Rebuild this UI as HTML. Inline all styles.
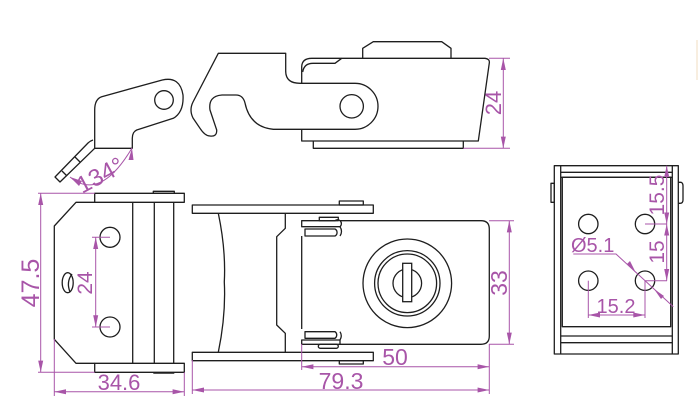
<!DOCTYPE html>
<html><head><meta charset="utf-8">
<style>
html,body{margin:0;padding:0;background:#fff;width:698px;height:403px;overflow:hidden}
svg{display:block}
.k{fill:none;stroke:#1e1e1e;stroke-width:1.3;stroke-linejoin:round}
.p{fill:none;stroke:#a855a8;stroke-width:1}
.a{fill:#a855a8;stroke:none}
text{font-family:"Liberation Sans",sans-serif;fill:#a855a8;font-weight:normal}
</style></head><body>
<svg width="698" height="403" viewBox="0 0 698 403" xmlns="http://www.w3.org/2000/svg">
<line x1="697" y1="40" x2="697" y2="80" stroke="#f0dcc0" stroke-width="1"/>

<path class="k" d="M94.7,148.3 L94.7,110 Q94.7,99 101.7,96.7 L162.3,80 Q180,76 183,95 Q184,112 173.3,118.3 L136.7,130 Q132.3,132 132.3,138.3 L132.3,148.3 Z"/>
<circle class="k" cx="164" cy="100" r="9.3"/>
<path class="k" d="M93,140 Q90,141 88,143 L55,177 L60,182 L94.7,148.3"/>
<line class="k" x1="75" y1="157" x2="80" y2="162"/>
<line class="k" x1="62" y1="171" x2="67" y2="176"/>
<path class="p" d="M70,177 Q100,202 132,148"/>
<polygon class="a" points="132,148 128.5,160 133.5,160"/>
<polygon class="a" points="70,177 82,181 79,186"/>
<text x="0" y="0" font-size="24" transform="translate(82,194) rotate(-28)">134°</text>

<path class="k" d="M218.3,53.3 L285.7,53.3 L285.7,71.7 Q286,83.3 300,83.3 L355,83.3 A23,23 0 0 1 355,129.3 L273.3,129.3 Q250,127 245,103 Q243,95 236,95 L222,95 Q208,96 210,110 L216.7,130 Q217,137 210,136 Q205,136 200,128.3 L193,118 Q189,110 193,102 Z"/>
<circle class="k" cx="351.7" cy="106.3" r="11.7"/>
<path class="k" d="M301.7,83.3 L301.7,66.7 Q302,58.3 311.7,58.3 L485,58.3 Q490,59 489.3,63 L478.3,141 L301.7,141 L301.7,129.3"/>
<path class="k" d="M302.7,72 Q304,63.3 313,63.3 L335,63.3 L341.7,58.3"/>
<path class="k" d="M362.7,58.3 L362.7,48.3 L373.3,41.7 L441.7,41.7 L451,48.3 L451,58.3"/>
<path class="k" d="M313.3,141 L313.3,148.3 L463.3,148.3 L463.3,141"/>
<line class="p" x1="489" y1="58.3" x2="510" y2="58.3"/>
<line class="p" x1="463.3" y1="148.3" x2="510" y2="148.3"/>
<line class="p" x1="503.3" y1="58.3" x2="503.3" y2="148.3"/>
<polygon class="a" points="503.3,58.3 500.8,70 505.8,70"/>
<polygon class="a" points="503.3,148.3 500.8,136.6 505.8,136.6"/>
<text font-size="22" transform="translate(501,103) rotate(-90)" text-anchor="middle">24</text>

<rect class="k" x="94.7" y="193.3" width="89.6" height="9"/>
<rect class="k" x="153.3" y="191.3" width="21" height="2"/>
<rect class="k" x="94.7" y="363.3" width="89.6" height="9"/>
<line x1="153.3" y1="373" x2="174.3" y2="373" stroke="#1e1e1e" stroke-width="1.5"/>
<path class="k" d="M94.7,202.3 L76,202.3 L54.3,226 L54.3,339.3 L76,363.3 L94.7,363.3"/>
<line class="k" x1="132.7" y1="202.3" x2="132.7" y2="363.3"/>
<line class="k" x1="154.3" y1="202.3" x2="154.3" y2="363.3"/>
<line class="k" x1="173.7" y1="202.3" x2="173.7" y2="363.3"/>
<circle class="k" cx="110" cy="237.3" r="10"/>
<circle class="k" cx="110" cy="327" r="10"/>
<ellipse class="k" cx="67.7" cy="282.7" rx="5.5" ry="10"/>
<path class="k" d="M72,274 Q66,282 70,292"/>
<line class="p" x1="95.7" y1="237.3" x2="95.7" y2="327"/>
<line class="p" x1="92" y1="237.3" x2="110" y2="237.3"/>
<line class="p" x1="92" y1="327" x2="110" y2="327"/>
<polygon class="a" points="95.7,237.3 93.2,249 98.2,249"/>
<polygon class="a" points="95.7,327 93.2,315.3 98.2,315.3"/>
<text font-size="21" transform="translate(92,283) rotate(-90)" text-anchor="middle">24</text>
<line class="p" x1="38" y1="193.3" x2="94.7" y2="193.3"/>
<line class="p" x1="38" y1="372.3" x2="94.7" y2="372.3"/>
<line class="p" x1="40.7" y1="193.3" x2="40.7" y2="372.3"/>
<polygon class="a" points="40.7,193.3 38.2,205 43.2,205"/>
<polygon class="a" points="40.7,372.3 38.2,360.6 43.2,360.6"/>
<text font-size="25" transform="translate(39,283) rotate(-90)" text-anchor="middle">47.5</text>
<line class="p" x1="54.3" y1="339" x2="54.3" y2="396"/>
<line class="p" x1="184.3" y1="372.3" x2="184.3" y2="396"/>
<line class="p" x1="54.3" y1="391.7" x2="184.3" y2="391.7"/>
<polygon class="a" points="54.3,391.7 66,389.2 66,394.2"/>
<polygon class="a" points="184.3,391.7 172.6,389.2 172.6,394.2"/>
<text x="119" y="390" font-size="22" text-anchor="middle">34.6</text>

<rect class="k" x="192.3" y="205" width="181" height="8.3"/>
<rect class="k" x="339.3" y="201" width="24" height="4"/>
<rect class="k" x="192.3" y="352.3" width="181" height="8.4"/>
<rect class="k" x="339.3" y="360.7" width="24" height="3.3"/>
<path class="k" d="M218.3,213.3 Q226,250 224.3,282 Q226,315 218.3,352.3"/>
<path class="k" d="M285.3,213.3 L285.3,228.3 L276.7,236.7 L276.7,325 L285.3,333.3 L285.3,352.3"/>
<path class="k" d="M340,220.7 L481,220.7 Q489.3,220.7 489.3,229 L489.3,336 Q489.3,344.3 481,344.3 L340,344.3"/>
<line class="k" x1="301.7" y1="236" x2="301.7" y2="329"/>
<path class="k" d="M301.7,220.7 L335,220.7 A3,3 0 0 1 340,226.7 L301.7,226.7 Z"/>
<rect class="k" x="319.3" y="217.3" width="19" height="3.4"/>
<path class="k" d="M305,229 L335,229 A4,4 0 0 1 335,236 L305,236 Z"/>
<path class="k" d="M340,226.7 A8,8 0 0 1 340,236"/>
<path class="k" d="M305,331.7 L335,331.7 A4,4 0 0 1 335,338.3 L305,338.3 Z"/>
<path class="k" d="M301.7,340 L340,340 L340,344.3 L301.7,344.3 Z"/>
<path class="k" d="M340,331.7 A8,8 0 0 1 340,340"/>
<rect class="k" x="318.3" y="344.3" width="20" height="4" rx="2"/>
<circle class="k" cx="407.3" cy="283.3" r="44.3"/>
<circle class="k" cx="407.3" cy="283.3" r="32.7"/>
<circle class="k" cx="407.3" cy="283.3" r="29.3"/>
<circle class="k" cx="407.3" cy="283.3" r="14.3"/>
<rect x="402.7" y="263.3" width="9" height="38.4" fill="#fff" stroke="#1e1e1e" stroke-width="1.3"/>
<line class="p" x1="489" y1="220.7" x2="514" y2="220.7"/>
<line class="p" x1="489" y1="344.3" x2="514" y2="344.3"/>
<line class="p" x1="509.3" y1="220.7" x2="509.3" y2="344.3"/>
<polygon class="a" points="509.3,220.7 506.8,232.4 511.8,232.4"/>
<polygon class="a" points="509.3,344.3 506.8,332.6 511.8,332.6"/>
<text font-size="23" transform="translate(507,283) rotate(-90)" text-anchor="middle">33</text>
<line class="p" x1="301.7" y1="344" x2="301.7" y2="370"/>
<line class="p" x1="489.3" y1="344" x2="489.3" y2="394"/>
<line class="p" x1="301.7" y1="366.7" x2="489.3" y2="366.7"/>
<polygon class="a" points="301.7,366.7 313.4,364.2 313.4,369.2"/>
<polygon class="a" points="489.3,366.7 477.6,364.2 477.6,369.2"/>
<text x="395" y="365" font-size="23" text-anchor="middle">50</text>
<line class="p" x1="192.3" y1="360" x2="192.3" y2="394"/>
<line class="p" x1="192.3" y1="390" x2="489.3" y2="390"/>
<polygon class="a" points="192.3,390 204,387.5 204,392.5"/>
<polygon class="a" points="489.3,390 477.6,387.5 477.6,392.5"/>
<text x="341" y="389" font-size="23" text-anchor="middle">79.3</text>

<rect class="k" x="554.3" y="165.7" width="124" height="188.3"/>
<line class="k" x1="560.7" y1="165.7" x2="560.7" y2="354"/>
<line class="k" x1="672.3" y1="165.7" x2="672.3" y2="354"/>
<line class="k" x1="560.7" y1="172.3" x2="672.3" y2="172.3"/>
<line class="k" x1="560.7" y1="177.3" x2="672.3" y2="177.3"/>
<rect class="k" x="562.3" y="177.3" width="108.4" height="149.4"/>
<line class="k" x1="560.7" y1="336" x2="672.3" y2="336"/>
<line class="k" x1="560.7" y1="342.7" x2="672.3" y2="342.7"/>
<rect class="k" x="551" y="183.3" width="3.3" height="19"/>
<path class="k" d="M678.3,182.3 L681,182.3 Q683,183 683,186 L683,200 Q683,203.3 680,203.3 L678.3,203.3"/>
<circle class="k" cx="588.3" cy="224" r="9.7"/>
<circle class="k" cx="645" cy="224" r="9.7"/>
<circle class="k" cx="588.3" cy="280.7" r="9.7"/>
<circle class="k" cx="645" cy="280.7" r="9.7"/>
<line class="p" x1="666.7" y1="165.7" x2="666.7" y2="280.7"/>
<line class="p" x1="645" y1="224" x2="667" y2="224"/>
<line class="p" x1="645" y1="280.7" x2="667" y2="280.7"/>
<polygon class="a" points="666.7,165.7 664.2,177 669.2,177"/>
<polygon class="a" points="666.7,224 664.2,212.5 669.2,212.5"/>
<polygon class="a" points="666.7,224 664.2,235.5 669.2,235.5"/>
<polygon class="a" points="666.7,280.7 664.2,269 669.2,269"/>
<text font-size="21" transform="translate(664,195) rotate(-90)" text-anchor="middle">15.5</text>
<text font-size="21" transform="translate(664,252) rotate(-90)" text-anchor="middle">15</text>
<text x="571" y="252" font-size="20">Ø5.1</text>
<polyline class="p" points="573.3,254 616,254 673.3,306.7"/>
<polygon class="a" points="636,273 627,264 630,261"/>
<polygon class="a" points="654,289 664,296 661,299"/>
<line class="p" x1="588.3" y1="280.7" x2="588.3" y2="318"/>
<line class="p" x1="645" y1="280.7" x2="645" y2="318"/>
<line class="p" x1="588.3" y1="315" x2="645" y2="315"/>
<polygon class="a" points="588.3,315 600,312.5 600,317.5"/>
<polygon class="a" points="645,315 633.3,312.5 633.3,317.5"/>
<text x="616" y="313" font-size="20" text-anchor="middle">15.2</text>
</svg>
</body></html>
